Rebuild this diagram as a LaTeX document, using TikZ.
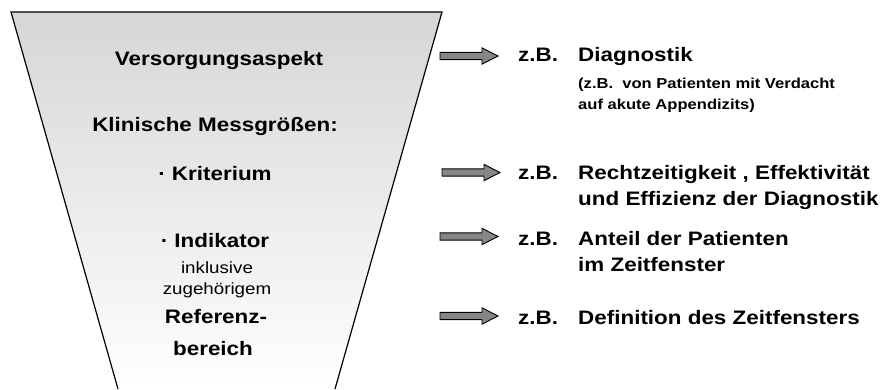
\documentclass[tikz,border=0pt]{standalone}
\usepackage{fontspec}
\setmainfont{Liberation Sans}[FakeStretch=1.15]
\begin{document}
\begin{tikzpicture}[x=1pt,y=-1pt,
  big/.style={font=\fontsize{19.5}{22}\selectfont\bfseries, inner sep=0pt, anchor=base},
  small/.style={font=\fontsize{16.3}{19}\selectfont, inner sep=0pt, anchor=base},
  note/.style={font=\fontsize{14.4}{17}\selectfont\bfseries, inner sep=0pt, anchor=base west},
  rtext/.style={font=\fontsize{19.5}{22}\selectfont\bfseries, inner sep=0pt, anchor=base west},
  blockarrow/.style={draw=black, line width=0.9pt, fill=gray!95!white, line join=miter}]
\useasboundingbox (0,0) rectangle (889,389);
% funnel
\shade[top color=black!16, bottom color=white] (11,12) -- (442,12) -- (335,389) -- (118,389) -- cycle;
\draw[line width=1.2pt] (118,389) -- (11,12) -- (442,12) -- (335,389);
% left column
\node[big] (vers) at (219,65.7) {Versorgungsaspekt};
\node[big] (klin) at (215,131.5) {Klinische Messgrößen:};
\node[big] (krit) at (215,180) {· Kriterium};
\node[big] (ind) at (215,247) {· Indikator};
\node[small] (inkl) at (217,273) {inklusive};
\node[small] (zug) at (217,294) {zugehörigem};
\node[big] (ref) at (216,323) {Referenz-};
\node[big] (ber) at (213,355) {bereich};
% arrows (tail points)
\coordinate (a1) at (440,56);
\coordinate (a2) at (442,172.5);
\coordinate (a3) at (440,236.5);
\coordinate (a4) at (440,316);
\foreach \a in {a1,a2,a3,a4}{
  \draw[blockarrow] (\a) ++(0,-3.6) -- ++(42,0) -- ++(0,-4.6) -- ++(16,8.2)
    -- ++(-16,8.2) -- ++(0,-4.6) -- ++(-42,0) -- cycle;
}
% right column
\node[rtext] (zb1) at (518,61.5) {z.B.};
\node[rtext] (t1) at (578,61.5) {Diagnostik};
\node[note] (n1) at (578,88.5) {(z.B.\ \ von Patienten mit Verdacht};
\node[note] (n2) at (578,109) {auf akute Appendizits)};
\node[rtext] (zb2) at (518,179) {z.B.};
\node[rtext] (t2) at (578,179) {Rechtzeitigkeit , Effektivität};
\node[rtext] (t2b) at (578,205) {und Effizienz der Diagnostik};
\node[rtext] (zb3) at (518,245) {z.B.};
\node[rtext] (t3) at (578,245) {Anteil der Patienten};
\node[rtext] (t3b) at (578,271) {im Zeitfenster};
\node[rtext] (zb4) at (518,324) {z.B.};
\node[rtext] (t4) at (578,324) {Definition des Zeitfensters};
\end{tikzpicture}
\end{document}
